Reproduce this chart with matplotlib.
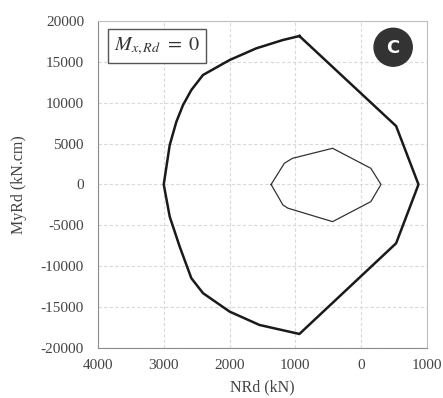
import matplotlib
matplotlib.use("Agg")
import matplotlib.pyplot as plt
from matplotlib.patches import Circle

plt.rcParams["font.family"] = ["Liberation Serif", "DejaVu Serif"]
plt.rcParams["mathtext.fontset"] = "stix"
plt.rcParams["axes.unicode_minus"] = False

# interaction diagram, outer envelope (NRd in kN, MyRd in kN.cm)
outer_n = [939, 1192, 1596, 2000, 2404, 2581, 2707, 2808, 2909, 3000,
           2909, 2758, 2581, 2404, 2000, 1545, 939, -530, -870, -530, 939]
outer_m = [18170, 17680, 16660, 15230, 13400, 11560, 9720, 7680, 4830, 0,
           -3940, -7600, -11470, -13300, -15560, -17200, -18300, -7200, 0, 7150, 18170]

# inner envelope
inner_n = [1369, 1167, 1045, 435, -146, -300, -146, 435, 1115, 1190, 1369]
inner_m = [0, 2600, 3200, 4430, 1980, 0, -2100, -4550, -2900, -2500, 0]

x_ticks = [4000, 3000, 2000, 1000, 0, -1000]
x_labels = ["4000", "3000", "2000", "1000", "0", "1000"]
y_ticks = [20000, 15000, 10000, 5000, 0, -5000, -10000, -15000, -20000]

fig = plt.figure(figsize=(4.43, 3.98), dpi=100)
ax = fig.add_axes([0.221, 0.126, 0.743, 0.821])

ax.plot(outer_n, outer_m, color="#1a1a1a", lw=1.8, zorder=3)
ax.plot(inner_n, inner_m, color="#333333", lw=0.9, zorder=3)

ax.set_xlim(4000, -1000)
ax.set_ylim(-20000, 20000)
ax.set_xticks(x_ticks)
ax.set_xticklabels(x_labels)
ax.set_yticks(y_ticks)
ax.tick_params(length=0, labelsize=11, colors="#444444")
ax.tick_params(axis="y", pad=10)
ax.tick_params(axis="x", pad=8)

ax.grid(True, color="#d9d9d9", linestyle=(0, (3, 2)), lw=0.8)
ax.set_axisbelow(True)
for side in ["top", "right"]:
    ax.spines[side].set_color("#bfbfbf")
for side in ["left", "bottom"]:
    ax.spines[side].set_color("#8c8c8c")

ax.set_xlabel("NRd (kN)", fontsize=11.5, color="#444444", labelpad=5)
ax.set_ylabel("MyRd (kN.cm)", fontsize=11.5, color="#444444", labelpad=10)

ax.text(0.048, 0.958, r"$M_{x,Rd}\ =\ 0$", transform=ax.transAxes, fontsize=14.5,
        ha="left", va="top", color="#333333",
        bbox=dict(boxstyle="square,pad=0.3", fc="white", ec="#555555", lw=1.0))

ax.add_patch(Circle((0.897, 0.920), 0.058, transform=ax.transAxes,
                    color="#333333", zorder=5, clip_on=False))
ax.text(0.897, 0.918, "C", transform=ax.transAxes, fontsize=13, fontweight="bold",
        family="DejaVu Sans", color="white", ha="center", va="center", zorder=6)

fig.savefig("out.png", dpi=100)
